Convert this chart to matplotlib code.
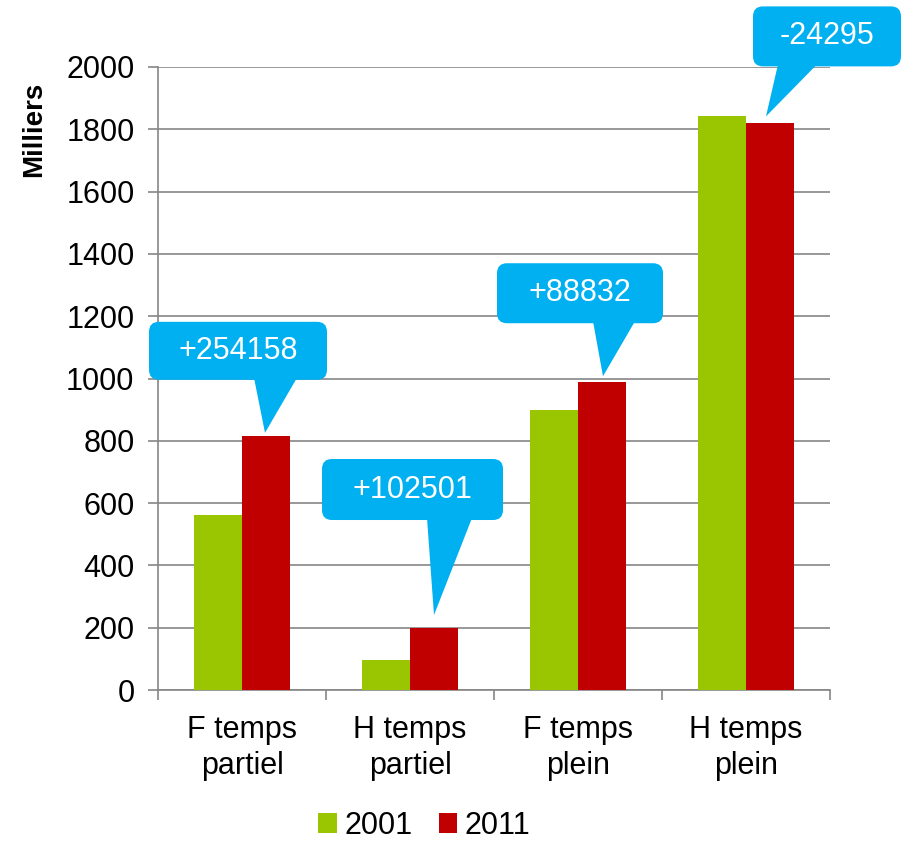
import numpy as np
import matplotlib.pyplot as plt
from matplotlib.patches import FancyBboxPatch, Polygon
from matplotlib.transforms import IdentityTransform

plt.rcParams['font.family'] = ['Liberation Sans', 'DejaVu Sans']

# Data
categories = ['F temps\npartiel', 'H temps\npartiel', 'F temps\nplein', 'H temps\nplein']
values_2001 = [562, 96, 899, 1843]
values_2011 = [816, 199, 988, 1819]
changes = ['+254158', '+102501', '+88832', '-24295']

# callout layout in pixels relative to the top of the 2011 bar:
# (box left, box right, box bottom, box top, pointer base x0, x1, tip dx, tip dy)
callout_layout = [
    (-117, 61, 56, 114, -12, 31, -1, 3),
    (-112, 69, 108, 169, -7, 38, 0, 13),
    (-105, 61, 59, 119, -9, 33, 1, 6),
    (-17, 131, 57, 117, 8, 47, -4, 7),
]

green = '#99C600'
red = '#C00000'
cyan = '#00B0F0'
grey = '#868686'

W, H = 901, 841
fig = plt.figure(figsize=(W / 100, H / 100), dpi=100)
ax = fig.add_axes([158 / W, 1 - 690 / H, 672 / W, 623 / H])

x = np.arange(len(categories))
bw = 0.2857
ax.bar(x - bw / 2, values_2001, width=bw, color=green, label='2001', zorder=3)
ax.bar(x + bw / 2, values_2011, width=bw, color=red, label='2011', zorder=3)

ax.set_xlim(-0.5, len(categories) - 0.5)
ax.set_ylim(0, 2000)
ax.set_yticks(range(0, 2001, 200))
ax.yaxis.grid(True, color=grey, linewidth=1.2, zorder=0)
ax.set_axisbelow(True)

for s in ['top', 'right']:
    ax.spines[s].set_visible(False)
for s in ['left', 'bottom']:
    ax.spines[s].set_color(grey)
    ax.spines[s].set_linewidth(1.2)

ax.set_xticks(x)
ax.set_xticklabels(categories, fontsize=22, linespacing=1.25)
ax.set_xticks(np.arange(-0.5, len(categories)), minor=True)
ax.tick_params(axis='x', which='major', length=0, pad=18)
ax.tick_params(axis='x', which='minor', length=7, width=1.2, color=grey, direction='out')
ax.tick_params(axis='y', length=7, width=1.2, color=grey, direction='out', labelsize=22, pad=10)

ax.set_ylabel('Milliers', fontsize=20, fontweight='bold')
ax.yaxis.set_label_coords(-0.165, 0.9)

# callouts
fig.canvas.draw()
for i, (lay, txt) in enumerate(zip(callout_layout, changes)):
    cx, top = ax.transData.transform((x[i] + bw / 2, values_2011[i]))
    l, r, b, t, b0, b1, tdx, tdy = lay
    box = FancyBboxPatch((cx + l, top + b), r - l, t - b,
                         boxstyle='round,pad=0,rounding_size=10',
                         facecolor=cyan, edgecolor='none',
                         transform=IdentityTransform(), clip_on=False, zorder=5)
    fig.patches.append(box)
    tri = Polygon([(cx + b0, top + b + 2), (cx + b1, top + b + 2), (cx + tdx, top + tdy)],
                  closed=True, facecolor=cyan, edgecolor='none',
                  transform=IdentityTransform(), clip_on=False, zorder=5)
    fig.patches.append(tri)
    fig.text((cx + (l + r) / 2) / W, (top + (b + t) / 2) / H, txt,
             color='white', fontsize=22, ha='center', va='center', zorder=6)

fig.legend(loc='center', bbox_to_anchor=(0.471, 0.018), ncol=2, frameon=False,
           fontsize=22, handlelength=0.6, handleheight=0.6, handletextpad=0.25,
           columnspacing=0.85)

fig.savefig('out.png', dpi=100)
